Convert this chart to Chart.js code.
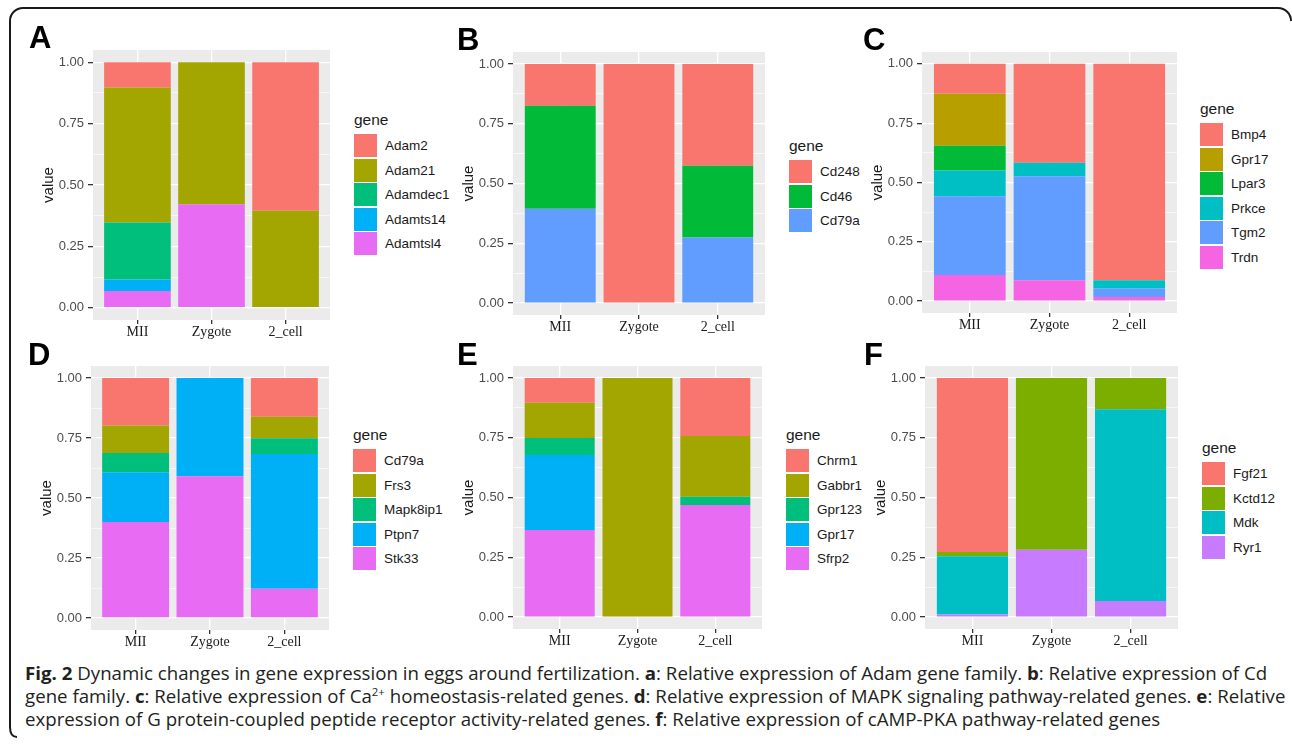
<!DOCTYPE html>
<html>
<head>
<meta charset="utf-8">
<script src="https://cdn.jsdelivr.net/npm/chart.js@4.4.1/dist/chart.umd.min.js"></script>
<style>
  html, body { margin: 0; padding: 0; background: #fff; }
  #fig { position: relative; width: 1292px; height: 749px; overflow: hidden; font-family: 'Liberation Sans', Arial, sans-serif; }
  #fig canvas { position: absolute; }
  #frame { position: absolute; left: 0; top: 0; }
  .tag { position: absolute; font: bold 31px/31px 'Liberation Sans', Arial, sans-serif; color: #000; }
  .legend { position: absolute; color: #1a1a1a; }
  .legend .ttl { position: absolute; left: 0; top: -24px; font-size: 15.5px; line-height: 20px; white-space: nowrap; }
  .legend .sw { position: absolute; left: 0; width: 23px; height: 23px; }
  .legend .lbl { position: absolute; left: 31px; font-size: 13.5px; line-height: 23px; white-space: nowrap; }
  #caption { position: absolute; left: 25px; top: 662px; font-family: 'Open Sans', sans-serif; font-size: 18px; line-height: 23px; color: #231f20; white-space: nowrap; transform-origin: 0 0; }
  #caption sup { font-size: 11px; line-height: 0; vertical-align: baseline; position: relative; top: -7px; }
</style>
</head>
<body>
<div id="fig">
  <svg id="frame" width="1292" height="749">
    <path d="M 1291 21 A 13 13 0 0 0 1278 8 L 23 8 A 13 13 0 0 0 10 21 L 10 727 Q 10 737 17 737" fill="none" stroke="#1a1a1a" stroke-width="2"/>
  </svg>
  <div id="caption"><span id="cap1"><b>Fig. 2</b> Dynamic changes in gene expression in eggs around fertilization. <b>a</b>: Relative expression of Adam gene family. <b>b</b>: Relative expression of Cd</span><br>gene family. <b>c</b>: Relative expression of Ca<sup>2+</sup> homeostasis-related genes. <b>d</b>: Relative expression of MAPK signaling pathway-related genes. <b>e</b>: Relative<br>expression of G protein-coupled peptide receptor activity-related genes. <b>f</b>: Relative expression of cAMP-PKA pathway-related genes</div>
</div>
<script>
const stages = ['MII', 'Zygote', '2_cell'];
const yTickValues = [0, 0.25, 0.5, 0.75, 1];
const yTickLabels = ['0.00', '0.25', '0.50', '0.75', '1.00'];

// relative expression, one row per gene: [MII, Zygote, 2_cell]
const genesA = ['Adam2', 'Adam21', 'Adamdec1', 'Adamts14', 'Adamtsl4'];
const valuesA = [
  [0.103, 0, 0.605],
  [0.550, 0.578, 0.395],
  [0.232, 0, 0],
  [0.047, 0, 0],
  [0.068, 0.422, 0]
];

const genesB = ['Cd248', 'Cd46', 'Cd79a'];
const valuesB = [
  [0.175, 1, 0.426],
  [0.431, 0, 0.300],
  [0.394, 0, 0.274]
];

const genesC = ['Bmp4', 'Gpr17', 'Lpar3', 'Prkce', 'Tgm2', 'Trdn'];
const valuesC = [
  [0.126, 0.417, 0.912],
  [0.219, 0, 0],
  [0.104, 0, 0],
  [0.109, 0.057, 0.035],
  [0.332, 0.438, 0.036],
  [0.110, 0.088, 0.017]
];

const genesD = ['Cd79a', 'Frs3', 'Mapk8ip1', 'Ptpn7', 'Stk33'];
const valuesD = [
  [0.198, 0, 0.161],
  [0.115, 0, 0.090],
  [0.080, 0, 0.066],
  [0.207, 0.409, 0.561],
  [0.400, 0.591, 0.122]
];

const genesE = ['Chrm1', 'Gabbr1', 'Gpr123', 'Gpr17', 'Sfrp2'];
const valuesE = [
  [0.104, 0, 0.243],
  [0.147, 1, 0.254],
  [0.071, 0, 0.034],
  [0.314, 0, 0],
  [0.364, 0, 0.469]
];

const genesF = ['Fgf21', 'Kctd12', 'Mdk', 'Ryr1'];
const valuesF = [
  [0.728, 0, 0],
  [0.018, 0.719, 0.131],
  [0.243, 0, 0.802],
  [0.011, 0.281, 0.067]
];

// ggplot default hue palettes
const hue3 = ['#F8766D', '#00BA38', '#619CFF'];
const hue4 = ['#F8766D', '#7CAE00', '#00BFC4', '#C77CFF'];
const hue5 = ['#F8766D', '#A3A500', '#00BF7D', '#00B0F6', '#E76BF3'];
const hue6 = ['#F8766D', '#B79F00', '#00BA38', '#00BFC4', '#619CFF', '#F564E3'];

// page layout: grey plot panel box, legend anchor, panel letter
const panels = [
  { tag: 'A', genes: genesA, values: valuesA, colors: hue5, box: { l: 93, t: 50, r: 330, b: 320 }, leg: [354, 134], pos: [29, 22] },
  { tag: 'B', genes: genesB, values: valuesB, colors: hue3, box: { l: 513, t: 52, r: 765, b: 315 }, leg: [789, 160], pos: [457, 24] },
  { tag: 'C', genes: genesC, values: valuesC, colors: hue6, box: { l: 922, t: 52, r: 1177, b: 313 }, leg: [1200, 123], pos: [863, 24] },
  { tag: 'D', genes: genesD, values: valuesD, colors: hue5, box: { l: 91, t: 366, r: 329, b: 630 }, leg: [353, 449], pos: [28, 339] },
  { tag: 'E', genes: genesE, values: valuesE, colors: hue5, box: { l: 513, t: 366, r: 762, b: 629 }, leg: [786, 449], pos: [457, 339] },
  { tag: 'F', genes: genesF, values: valuesF, colors: hue4, box: { l: 925, t: 366, r: 1178, b: 629 }, leg: [1202, 462], pos: [864, 339] }
];

const YW = 70, XH = 30, PT = 14, PR = 2;
const fig = document.getElementById('fig');

// major ticks plus the minor lines halfway between them
const yGrid = yTickValues.flatMap((v, i) => i ? [(v + yTickValues[i - 1]) / 2, v] : [v]);
const isMajor = v => yTickValues.indexOf(v) >= 0;

const panelBg = {
    id: 'panelBg',
    beforeDraw(chart) {
        const { ctx, chartArea: a } = chart;
        ctx.save();
        ctx.fillStyle = '#EBEBEB';
        ctx.fillRect(a.left, a.top, a.width, a.height);
        ctx.restore();
    }
};

function drawPanel(p) {
    const { l, t, r, b } = p.box;
    const canvas = document.createElement('canvas');
    canvas.width = r - l + YW + PR;
    canvas.height = b - t + PT + XH;
    canvas.style.left = (l - YW) + 'px';
    canvas.style.top = (t - PT) + 'px';
    fig.appendChild(canvas);

    // ggplot puts the first gene on top of the stack, so feed datasets bottom-up
    const datasets = p.genes.map((g, i) => ({
        label: g,
        data: p.values[i].map((v, j) => ({ x: j, y: v })),
        backgroundColor: p.colors[i],
        borderWidth: 0,
        categoryPercentage: 0.9,
        barPercentage: 1
    })).reverse();

    const chart = new Chart(canvas.getContext('2d'), {
        type: 'bar',
        data: { datasets: datasets },
        options: {
            responsive: false,
            animation: false,
            layout: { padding: { top: PT, right: PR, left: 0, bottom: 0 } },
            plugins: { legend: { display: false }, tooltip: { enabled: false } },
            scales: {
                x: {
                    type: 'linear',
                    stacked: true,
                    offset: false,
                    min: -0.6,
                    max: stages.length - 0.4,
                    afterBuildTicks: s => { s.ticks = stages.map((_, i) => ({ value: i })); },
                    afterFit: s => { s.height = XH; },
                    grid: { color: '#FFFFFF', lineWidth: 1.3, tickColor: '#333333', tickLength: 4, offset: false },
                    border: { display: false },
                    ticks: {
                        padding: 0,
                        color: '#1a1a1a',
                        font: { family: 'Liberation Serif', size: 14 },
                        autoSkip: false,
                        maxRotation: 0,
                        callback: v => stages[v]
                    }
                },
                y: {
                    stacked: true,
                    min: -0.05,
                    max: 1.05,
                    afterBuildTicks: s => { s.ticks = yGrid.map(v => ({ value: v })); },
                    afterFit: s => { s.width = YW; },
                    grid: {
                        color: '#FFFFFF',
                        lineWidth: c => isMajor(c.tick.value) ? 1.3 : 0.6,
                        tickColor: c => isMajor(c.tick.value) ? '#333333' : 'rgba(0,0,0,0)',
                        tickLength: 5
                    },
                    border: { display: false },
                    ticks: {
                        padding: 4,
                        color: '#4D4D4D',
                        font: { family: 'Liberation Sans', size: 13 },
                        autoSkip: false,
                        callback: v => {
                            const k = yTickValues.indexOf(v);
                            return k < 0 ? '' : yTickLabels[k];
                        }
                    },
                    title: {
                        display: true,
                        text: 'value',
                        color: '#1a1a1a',
                        font: { family: 'Liberation Sans', size: 15 },
                        padding: { top: 17, bottom: 0 }
                    }
                }
            }
        },
        plugins: [panelBg]
    });

    // legend in html, taken from the chart's datasets (top gene first)
    const leg = document.createElement('div');
    leg.className = 'legend';
    leg.style.left = p.leg[0] + 'px';
    leg.style.top = p.leg[1] + 'px';
    let html = '<div class="ttl">gene</div>';
    chart.data.datasets.slice().reverse().forEach((d, i) => {
        const y = i * 24.5;
        html += `<div class="sw" style="top:${y}px;background:${d.backgroundColor}"></div>`;
        html += `<div class="lbl" style="top:${y}px">${d.label}</div>`;
    });
    leg.innerHTML = html;
    fig.appendChild(leg);

    const tag = document.createElement('div');
    tag.className = 'tag';
    tag.textContent = p.tag;
    tag.style.left = p.pos[0] + 'px';
    tag.style.top = p.pos[1] + 'px';
    fig.appendChild(tag);
}

panels.forEach(drawPanel);

// the journal caption font is narrower than Open Sans; squeeze to the same line length
const cap = document.getElementById('caption');
const w1 = document.getElementById('cap1').offsetWidth;
cap.style.transform = `scaleX(${1242 / w1})`;
</script>
</body>
</html>
